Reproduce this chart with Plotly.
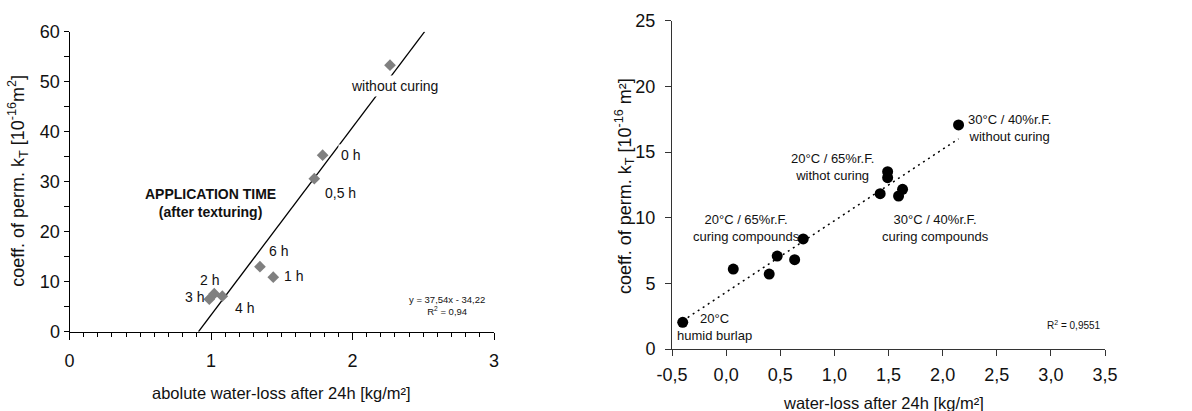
import numpy as np
import plotly.graph_objects as go

# ---------------- data ----------------
# left chart: application time of curing compound
left_x = [2.265, 1.789, 1.730, 1.346, 1.440, 1.023, 0.988, 1.080]
left_y = [53.3, 35.3, 30.6, 13.0, 10.9, 7.6, 6.5, 7.1]
left_labels = ["without curing", "0 h", "0,5 h", "6 h", "1 h", "2 h", "3 h", "4 h"]
left_label_x = [2.30, 1.987, 1.912, 1.476, 1.582, 0.988, 0.882, 1.235]
left_label_y = [49.1, 35.3, 27.8, 16.2, 11.1, 10.3, 6.9, 4.7]
left_fit_slope = [37.54]
left_fit_intercept = [-34.22]
left_fit_yrange = [0, 60]
left_xticks = [0, 1, 2, 3]
left_yticks = [0, 10, 20, 30, 40, 50, 60]

# right chart: curing conditions
right_x = [-0.401, 0.066, 0.398, 0.472, 0.633, 0.712, 1.423, 1.492, 1.492, 1.593, 1.630, 2.147]
right_y = [2.03, 6.09, 5.71, 7.08, 6.80, 8.38, 11.83, 13.05, 13.50, 11.65, 12.16, 17.06]
right_labels = ["30°C / 40%r.F.<br>without curing", "20°C / 65%r.F.<br>withot curing",
                "20°C / 65%r.F.<br>curing compounds", "30°C / 40%r.F.<br>curing compounds",
                "20°C<br>humid burlap"]
right_label_x = [2.614, 0.984, 0.190, 1.931, -0.103]
right_label_y = [16.8, 13.86, 9.25, 9.25, 1.67]
right_xticks = [-0.5, 0.0, 0.5, 1.0, 1.5, 2.0, 2.5, 3.0, 3.5]
right_xticklabels = ["-0,5", "0,0", "0,5", "1,0", "1,5", "2,0", "2,5", "3,0", "3,5"]
right_yticks = [0, 5, 10, 15, 20, 25]

FONT = "Arial, Liberation Sans, sans-serif"
W, H = 1192, 411

fig = go.Figure()

# left fit line from y=0 to y=60
m, b = left_fit_slope[0], left_fit_intercept[0]
ly = np.array(left_fit_yrange, dtype=float)
lx = (ly - b) / m
fig.add_trace(go.Scatter(x=lx, y=ly, mode="lines", line=dict(color="black", width=1.3),
                         xaxis="x", yaxis="y", showlegend=False, hoverinfo="skip"))
fig.add_trace(go.Scatter(x=left_x, y=left_y, mode="markers",
                         marker=dict(symbol="diamond", size=9, color="#808080"),
                         xaxis="x", yaxis="y", showlegend=False))

# right regression line
rx = np.array(right_x)
ry = np.array(right_y)
k, c = np.polyfit(rx, ry, 1)
fx = np.array([rx.min(), rx.max()])
fig.add_trace(go.Scatter(x=fx, y=k * fx + c, mode="lines",
                         line=dict(color="black", width=1.5, dash="2px,4px"),
                         xaxis="x2", yaxis="y2", showlegend=False, hoverinfo="skip"))
fig.add_trace(go.Scatter(x=right_x, y=right_y, mode="markers",
                         marker=dict(symbol="circle", size=11, color="black"),
                         xaxis="x2", yaxis="y2", showlegend=False))

C = dict(xanchor="center", yanchor="middle", showarrow=False)

ann = []
for t, x, y in zip(left_labels, left_label_x, left_label_y):
    a = dict(x=x, y=y, xref="x", yref="y", text=t,
             font=dict(family=FONT, size=14, color="#111"), **C)
    if t in ("without curing", "0 h"):
        a["bgcolor"] = "white"
        a["borderpad"] = 2
    ann.append(a)
ann.append(dict(x=0.998, y=25.8, xref="x", yref="y",
                text="<b>APPLICATION TIME</b><br><b>(after texturing)</b>",
                font=dict(family=FONT, size=14, color="#111"), **C))
ann.append(dict(x=2.666, y=5.3, xref="x", yref="y",
                text="y = 37,54x - 34,22<br>R<sup>2</sup> = 0,94",
                font=dict(family=FONT, size=9.5, color="#111"), **C))
for t, x, y in zip(right_labels, right_label_x, right_label_y):
    ann.append(dict(x=x, y=y, xref="x2", yref="y2", text=t,
                    font=dict(family=FONT, size=13, color="#111"), **C))
ann.append(dict(x=3.215, y=1.83, xref="x2", yref="y2",
                text="R<sup>2</sup> = 0,9551", font=dict(family=FONT, size=10, color="#111"), **C))

# axis titles
ann.append(dict(x=281.7 / W, y=1 - 393.3 / H, xref="paper", yref="paper",
                text="abolute water-loss after 24h [kg/m²]",
                font=dict(family=FONT, size=16.5, color="#111"), **C))
ann.append(dict(x=883.3 / W, y=1 - 403 / H, xref="paper", yref="paper",
                text="water-loss after 24h [kg/m²]",
                font=dict(family=FONT, size=16.5, color="#111"), **C))
ann.append(dict(x=18 / W, y=1 - 180.7 / H, xref="paper", yref="paper",
                textangle=-90,
                text="coeff. of perm. k<sub>T</sub> [10<sup>-16</sup>m<sup>2</sup>]",
                font=dict(family=FONT, size=18, color="#111"), **C))
ann.append(dict(x=624 / W, y=1 - 186 / H, xref="paper", yref="paper",
                textangle=-90,
                text="coeff. of perm. k<sub>T</sub> [10<sup>-16</sup> m²]",
                font=dict(family=FONT, size=18, color="#111"), **C))

tickfont = dict(family=FONT, size=18, color="#111")

fig.update_layout(
    width=W, height=H,
    margin=dict(l=0, r=0, t=0, b=0, autoexpand=False),
    paper_bgcolor="white", plot_bgcolor="white",
    showlegend=False,
    annotations=ann,
    xaxis=dict(domain=[69.5 / W, 494 / W], anchor="y", range=[0, 3], automargin=False,
               tickvals=left_xticks, ticks="outside", ticklen=7, tickcolor="black",
               showline=True, linecolor="black", linewidth=1, showgrid=False, zeroline=False,
               tickfont=tickfont, ticklabelstandoff=6,
               minor=dict(dtick=0.1, ticks="outside", ticklen=4, tickcolor="black", showgrid=False)),
    yaxis=dict(domain=[1 - 331.7 / H, 1 - 31.7 / H], anchor="x", range=[0, 60], automargin=False,
               tickvals=left_yticks, ticks="outside", ticklen=5, tickcolor="black",
               showline=True, linecolor="black", linewidth=1, showgrid=False, zeroline=False,
               tickfont=tickfont,
               minor=dict(dtick=5, ticks="outside", ticklen=5, tickcolor="black", showgrid=False)),
    xaxis2=dict(domain=[672 / W, 1105 / W], anchor="y2", range=[-0.5, 3.5], automargin=False,
                tickvals=right_xticks, ticktext=right_xticklabels, ticks="outside", ticklen=6,
                tickcolor="#333", showline=True, linecolor="#333", linewidth=1,
                showgrid=False, zeroline=False, tickfont=tickfont, ticklabelstandoff=3),
    yaxis2=dict(domain=[1 - 349 / H, 1 - 20.7 / H], anchor="x2", range=[0, 25], automargin=False,
                tickvals=right_yticks, ticks="outside", ticklen=6, tickcolor="#333",
                showline=True, linecolor="#333", linewidth=1, showgrid=False, zeroline=False,
                tickfont=tickfont, ticklabelstandoff=6),
)

fig.write_html("out.html")
